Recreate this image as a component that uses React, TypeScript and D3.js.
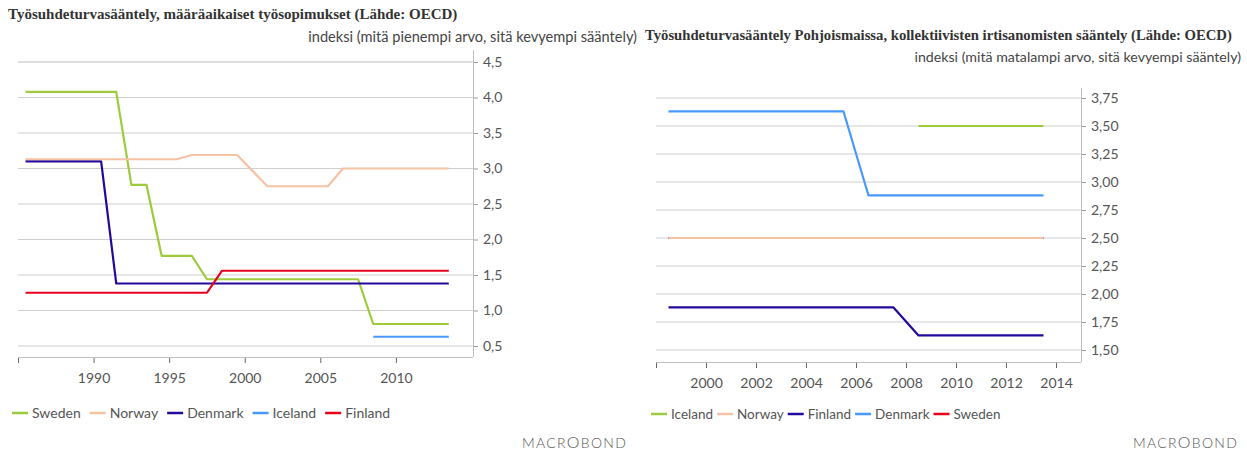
import React, { useEffect, useRef } from "react";
import * as d3 from "d3";

// ---- data: left chart (temporary contracts), annual values plotted mid-year
const leftYears = d3.range(1985, 2014);
const swedenTemp = [4.08, 4.08, 4.08, 4.08, 4.08, 4.08, 4.08, 2.77, 2.77, 1.77, 1.77, 1.77, 1.44, 1.44, 1.44, 1.44, 1.44, 1.44, 1.44, 1.44, 1.44, 1.44, 1.44, 0.81, 0.81, 0.81, 0.81, 0.81, 0.81];
const norwayTemp = [3.13, 3.13, 3.13, 3.13, 3.13, 3.13, 3.13, 3.13, 3.13, 3.13, 3.13, 3.19, 3.19, 3.19, 3.19, 2.97, 2.75, 2.75, 2.75, 2.75, 2.75, 3.0, 3.0, 3.0, 3.0, 3.0, 3.0, 3.0, 3.0];
const denmarkTemp = [3.1, 3.1, 3.1, 3.1, 3.1, 3.1, 1.38, 1.38, 1.38, 1.38, 1.38, 1.38, 1.38, 1.38, 1.38, 1.38, 1.38, 1.38, 1.38, 1.38, 1.38, 1.38, 1.38, 1.38, 1.38, 1.38, 1.38, 1.38, 1.38];
const icelandTemp = [null, null, null, null, null, null, null, null, null, null, null, null, null, null, null, null, null, null, null, null, null, null, null, 0.63, 0.63, 0.63, 0.63, 0.63, 0.63];
const finlandTemp = [1.25, 1.25, 1.25, 1.25, 1.25, 1.25, 1.25, 1.25, 1.25, 1.25, 1.25, 1.25, 1.25, 1.56, 1.56, 1.56, 1.56, 1.56, 1.56, 1.56, 1.56, 1.56, 1.56, 1.56, 1.56, 1.56, 1.56, 1.56, 1.56];
const leftYTicks = [0.5, 1.0, 1.5, 2.0, 2.5, 3.0, 3.5, 4.0, 4.5];
const leftXTicks = [1985, 1990, 1995, 2000, 2005, 2010];

// ---- data: right chart (collective dismissals)
const rightYears = d3.range(1998, 2014);
const icelandColl = [null, null, null, null, null, null, null, null, null, null, 3.5, 3.5, 3.5, 3.5, 3.5, 3.5];
const norwayColl = [2.5, 2.5, 2.5, 2.5, 2.5, 2.5, 2.5, 2.5, 2.5, 2.5, 2.5, 2.5, 2.5, 2.5, 2.5, 2.5];
const finlandColl = [1.88, 1.88, 1.88, 1.88, 1.88, 1.88, 1.88, 1.88, 1.88, 1.88, 1.63, 1.63, 1.63, 1.63, 1.63, 1.63];
const denmarkColl = [3.63, 3.63, 3.63, 3.63, 3.63, 3.63, 3.63, 3.63, 2.88, 2.88, 2.88, 2.88, 2.88, 2.88, 2.88, 2.88];
const swedenColl = [2.5, 2.5, 2.5, 2.5, 2.5, 2.5, 2.5, 2.5, 2.5, 2.5, 2.5, 2.5, 2.5, 2.5, 2.5, 2.5];
const rightYTicks = [1.5, 1.75, 2.0, 2.25, 2.5, 2.75, 3.0, 3.25, 3.5, 3.75];
const rightXTicks = [1998, 2000, 2002, 2004, 2006, 2008, 2010, 2012, 2014];

// series colours go by position in the legend
const palette = ["#9dcb3b", "#f6c2a4", "#24089c", "#4898ff", "#e8001f"];

const sans = "Lato, 'Open Sans', sans-serif";
const serif = "'Liberation Serif', 'DejaVu Serif', serif";

type Series = { name: string; values: (number | null)[] };

type PanelCfg = {
  title: string;
  titleX: number;
  titleY: number;
  titleSize: number;
  unit: string;
  unitX: number;
  unitY: number;
  unitSize: number;
  years: number[];
  series: Series[]; // legend order
  drawOrder: number[];
  xDomain: [number, number];
  xRange: [number, number];
  yDomain: [number, number];
  yRange: [number, number];
  axisTop: number;
  axisBottom: number;
  yTicks: number[];
  yFormat: (v: number) => string;
  xTicks: number[];
  heavyTop: boolean;
  legendX: number;
  legendY: number;
  legendSize: number;
  legendGap: number;
  logoX: number;
};

const comma = (f: string) => (v: number) => d3.format(f)(v).replace(".", ",");

const panels: PanelCfg[] = [
  {
    title: "Työsuhdeturvasääntely, määräaikaiset työsopimukset (Lähde: OECD)",
    titleX: 8,
    titleY: 19,
    titleSize: 15,
    unit: "indeksi (mitä pienempi arvo, sitä kevyempi sääntely)",
    unitX: 637,
    unitY: 42,
    unitSize: 14.6,
    years: leftYears,
    series: [
      { name: "Sweden", values: swedenTemp },
      { name: "Norway", values: norwayTemp },
      { name: "Denmark", values: denmarkTemp },
      { name: "Iceland", values: icelandTemp },
      { name: "Finland", values: finlandTemp },
    ],
    drawOrder: [0, 2, 1, 3, 4],
    xDomain: [1985, 2015.1],
    xRange: [18, 473],
    yDomain: [0.5, 4.5],
    yRange: [346, 62],
    axisTop: 50,
    axisBottom: 357,
    yTicks: leftYTicks,
    yFormat: comma(".1f"),
    xTicks: leftXTicks,
    heavyTop: true,
    legendX: 12,
    legendY: 413,
    legendSize: 14,
    legendGap: 9,
    logoX: 522,
  },
  {
    title: "Työsuhdeturvasääntely Pohjoismaissa, kollektiivisten irtisanomisten sääntely (Lähde: OECD)",
    titleX: 645,
    titleY: 40,
    titleSize: 14.7,
    unit: "indeksi (mitä matalampi arvo, sitä kevyempi sääntely)",
    unitX: 1241,
    unitY: 62,
    unitSize: 14.2,
    years: rightYears,
    series: [
      { name: "Iceland", values: icelandColl },
      { name: "Norway", values: norwayColl },
      { name: "Finland", values: finlandColl },
      { name: "Denmark", values: denmarkColl },
      { name: "Sweden", values: swedenColl },
    ],
    drawOrder: [4, 1, 0, 2, 3],
    xDomain: [1998, 2015],
    xRange: [656, 1081],
    yDomain: [1.5, 3.75],
    yRange: [350, 98],
    axisTop: 88,
    axisBottom: 362,
    yTicks: rightYTicks,
    yFormat: comma(".2f"),
    xTicks: rightXTicks,
    heavyTop: false,
    legendX: 651,
    legendY: 414,
    legendSize: 13.5,
    legendGap: 4,
    logoX: 1133,
  },
];

function drawPanel(svg: d3.Selection<SVGSVGElement, unknown, null, undefined>, p: PanelCfg) {
  const g = svg.append("g");
  const x = d3.scaleLinear().domain(p.xDomain).range(p.xRange);
  const y = d3.scaleLinear().domain(p.yDomain).range(p.yRange);
  const [x0, x1] = p.xRange;

  // titles
  g.append("text")
    .attr("x", p.titleX)
    .attr("y", p.titleY)
    .attr("font-family", serif)
    .attr("font-weight", "bold")
    .attr("font-size", p.titleSize)
    .attr("fill", "#333")
    .text(p.title);
  g.append("text")
    .attr("x", p.unitX)
    .attr("y", p.unitY)
    .attr("text-anchor", "end")
    .attr("font-family", sans)
    .attr("font-size", p.unitSize)
    .attr("fill", "#444")
    .text(p.unit);

  // gridlines
  const last = p.yTicks.length - 1;
  g.append("g")
    .selectAll("line")
    .data(p.yTicks)
    .join("line")
    .attr("x1", x0)
    .attr("x2", x1)
    .attr("y1", (d) => y(d))
    .attr("y2", (d) => y(d))
    .attr("stroke", (d, i) => (p.heavyTop && i === last ? "#dedede" : "#cfcfcf"))
    .attr("stroke-width", (d, i) => (p.heavyTop && i === last ? 2.2 : 1));

  // right value axis
  const yAxis = d3
    .axisRight(y)
    .tickValues(p.yTicks)
    .tickFormat((d) => p.yFormat(d as number))
    .tickSize(5)
    .tickPadding(5);
  const ya = g.append("g").attr("transform", `translate(${x1},0)`).call(yAxis);
  ya.select(".domain").remove();
  ya.selectAll(".tick line").attr("stroke", "#999");
  ya.selectAll(".tick text")
    .attr("font-family", sans)
    .attr("font-size", 14)
    .attr("fill", "#555");
  g.append("line")
    .attr("x1", x1 + 0.5)
    .attr("x2", x1 + 0.5)
    .attr("y1", p.axisTop)
    .attr("y2", p.axisBottom)
    .attr("stroke", "#bfbfbf");

  // bottom time axis
  const xAxis = d3
    .axisBottom(x)
    .tickValues(p.xTicks)
    .tickFormat((d, i) => (i === 0 ? "" : String(d)))
    .tickSize(6)
    .tickPadding(10);
  const xa = g.append("g").attr("transform", `translate(0,${p.axisBottom})`).call(xAxis);
  xa.select(".domain").remove();
  xa.selectAll(".tick line").attr("stroke", "#666");
  xa.selectAll(".tick text")
    .attr("font-family", sans)
    .attr("font-size", 14)
    .attr("fill", "#555");
  g.append("line")
    .attr("x1", x0)
    .attr("x2", x1)
    .attr("y1", p.axisBottom + 0.5)
    .attr("y2", p.axisBottom + 0.5)
    .attr("stroke", "#bfbfbf");

  // series lines
  const line = d3
    .line<[number, number | null]>()
    .defined((d) => d[1] != null)
    .x((d) => x(d[0] + 0.5))
    .y((d) => y(d[1] as number));
  p.drawOrder.forEach((idx) => {
    const s = p.series[idx];
    g.append("path")
      .datum(p.years.map((yr, i) => [yr, s.values[i]] as [number, number | null]))
      .attr("fill", "none")
      .attr("stroke", palette[idx])
      .attr("stroke-width", 2.2)
      .attr("stroke-linejoin", "round")
      .attr("d", line);
  });

  // legend
  let lx = p.legendX;
  p.series.forEach((s, idx) => {
    g.append("line")
      .attr("x1", lx)
      .attr("x2", lx + 16)
      .attr("y1", p.legendY)
      .attr("y2", p.legendY)
      .attr("stroke", palette[idx])
      .attr("stroke-width", 2.5);
    const t = g
      .append("text")
      .attr("x", lx + 20)
      .attr("y", p.legendY + 5)
      .attr("font-family", sans)
      .attr("font-size", p.legendSize)
      .attr("fill", "#555")
      .text(s.name);
    const w = (t.node() as SVGTextElement).getComputedTextLength();
    lx += 20 + w + p.legendGap;
  });

  // branding
  const logo = g
    .append("text")
    .attr("x", p.logoX)
    .attr("y", 448)
    .attr("font-family", sans)
    .attr("font-weight", 300)
    .attr("font-size", 14)
    .attr("letter-spacing", 1.3)
    .attr("fill", "#555");
  logo.append("tspan").text("MACR");
  logo.append("tspan").attr("font-size", 16).text("O");
  logo.append("tspan").text("BOND");
}

export default function App() {
  const ref = useRef<SVGSVGElement>(null);
  useEffect(() => {
    const svg = d3.select(ref.current as SVGSVGElement);
    svg.selectAll("*").remove();
    panels.forEach((p) => drawPanel(svg, p));
  }, []);
  return (
    <svg
      ref={ref}
      width={1247}
      height={452}
      style={{ position: "absolute", left: 0, top: 0, background: "#fff" }}
    />
  );
}
